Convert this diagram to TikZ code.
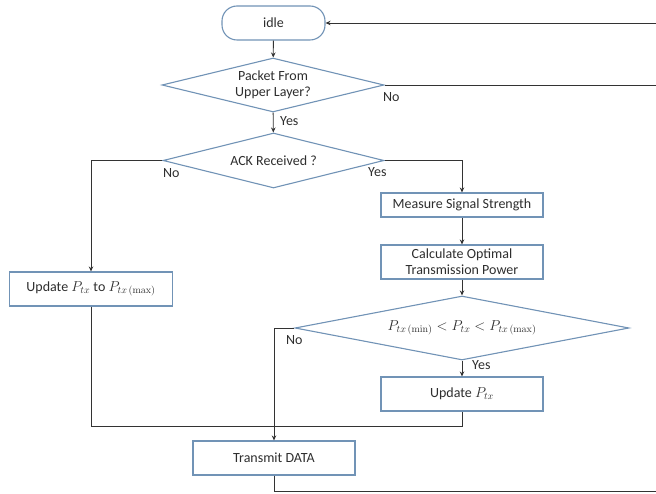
\documentclass[tikz,border=0pt]{standalone}
\usepackage[no-math]{fontspec}
\setmainfont{Carlito}
\usetikzlibrary{shapes.geometric,arrows.meta}
\definecolor{bord}{HTML}{7193B6}
\definecolor{ln}{HTML}{333333}
\definecolor{txt}{HTML}{2E2E2E}
\begin{document}
\begin{tikzpicture}[x=1pt,y=-1pt,
  every node/.style={font=\fontsize{14}{16}\selectfont, text=txt},
  box/.style={draw=bord, line width=1.1pt, fill=white, rectangle, inner sep=0pt, minimum width=162pt, align=center},
  term/.style={draw=bord, line width=1.1pt, fill=white, rectangle, rounded corners=15pt, inner sep=0pt, minimum width=103pt, minimum height=34pt},
  dec/.style={draw=bord, line width=1.1pt, fill=white, diamond, shape aspect=4, inner sep=0pt, align=center},
  conn/.style={draw=ln, line width=0.9pt},
  arr/.style={conn, -{Stealth[length=5pt,width=4.5pt]}},
  lab/.style={font=\fontsize{14}{16}\selectfont, inner sep=0pt, anchor=west}
]
\useasboundingbox (0,0) rectangle (656,494);
% nodes
\node[term] (idle) at (273.5,23) {idle};
\node[dec, minimum width=222pt, minimum height=54pt] (d1) at (273,85) {Packet From\\[0pt]Upper Layer?};
\node[dec, minimum width=221pt, minimum height=55pt] (d2) at (273.5,160.5) {ACK Received ?};
\node[box, minimum height=24pt] (meas) at (462,205) {Measure Signal Strength};
\node[box, minimum height=34pt] (calc) at (462,262) {Calculate Optimal\\[0pt]Transmission Power};
\node[box, minimum width=163pt, minimum height=34pt] (upd1) at (91,289) {Update $P_{tx}$ to $P_{tx\,(\mathrm{max})}$};
\node[dec, minimum width=334pt, minimum height=64pt] (d3) at (462,328) {$P_{tx\,(\mathrm{min})} < P_{tx} < P_{tx\,(\mathrm{max})}$};
\node[box, minimum height=34pt] (upd2) at (462,394) {Update $P_{tx}$};
\node[box, minimum height=34pt] (tx) at (274,458) {Transmit DATA};
% free ends
\coordinate (r1) at (656,23);
\coordinate (r2) at (656,85);
\coordinate (r3) at (656,491);
\coordinate (j) at (462,426);
% connectors
\draw[arr] (r1) -- (idle.east);
\draw[arr] (idle) -- (d1);
\draw[conn] (d1.east) -- (r2);
\draw[arr] (d1) -- (d2);
\draw[arr] (d2.west) -| (upd1.north);
\draw[arr] (d2.east) -| (meas.north);
\draw[arr] (meas) -- (calc);
\draw[arr] (calc) -- (d3);
\draw[arr] (d3) -- (upd2);
\draw[arr] (d3.west) -| (tx.north);
\draw[conn] (upd1.south) |- (j) -- (upd2.south);
\draw[conn] (tx.south) |- (r3);
% labels
\node[lab] (l1) at (383,97) {No};
\node[lab] (l2) at (280,121) {Yes};
\node[lab] (l3) at (163,173) {No};
\node[lab] (l4) at (368,172) {Yes};
\node[lab] (l5) at (286,340) {No};
\node[lab] (l6) at (472,365) {Yes};
\end{tikzpicture}
\end{document}
